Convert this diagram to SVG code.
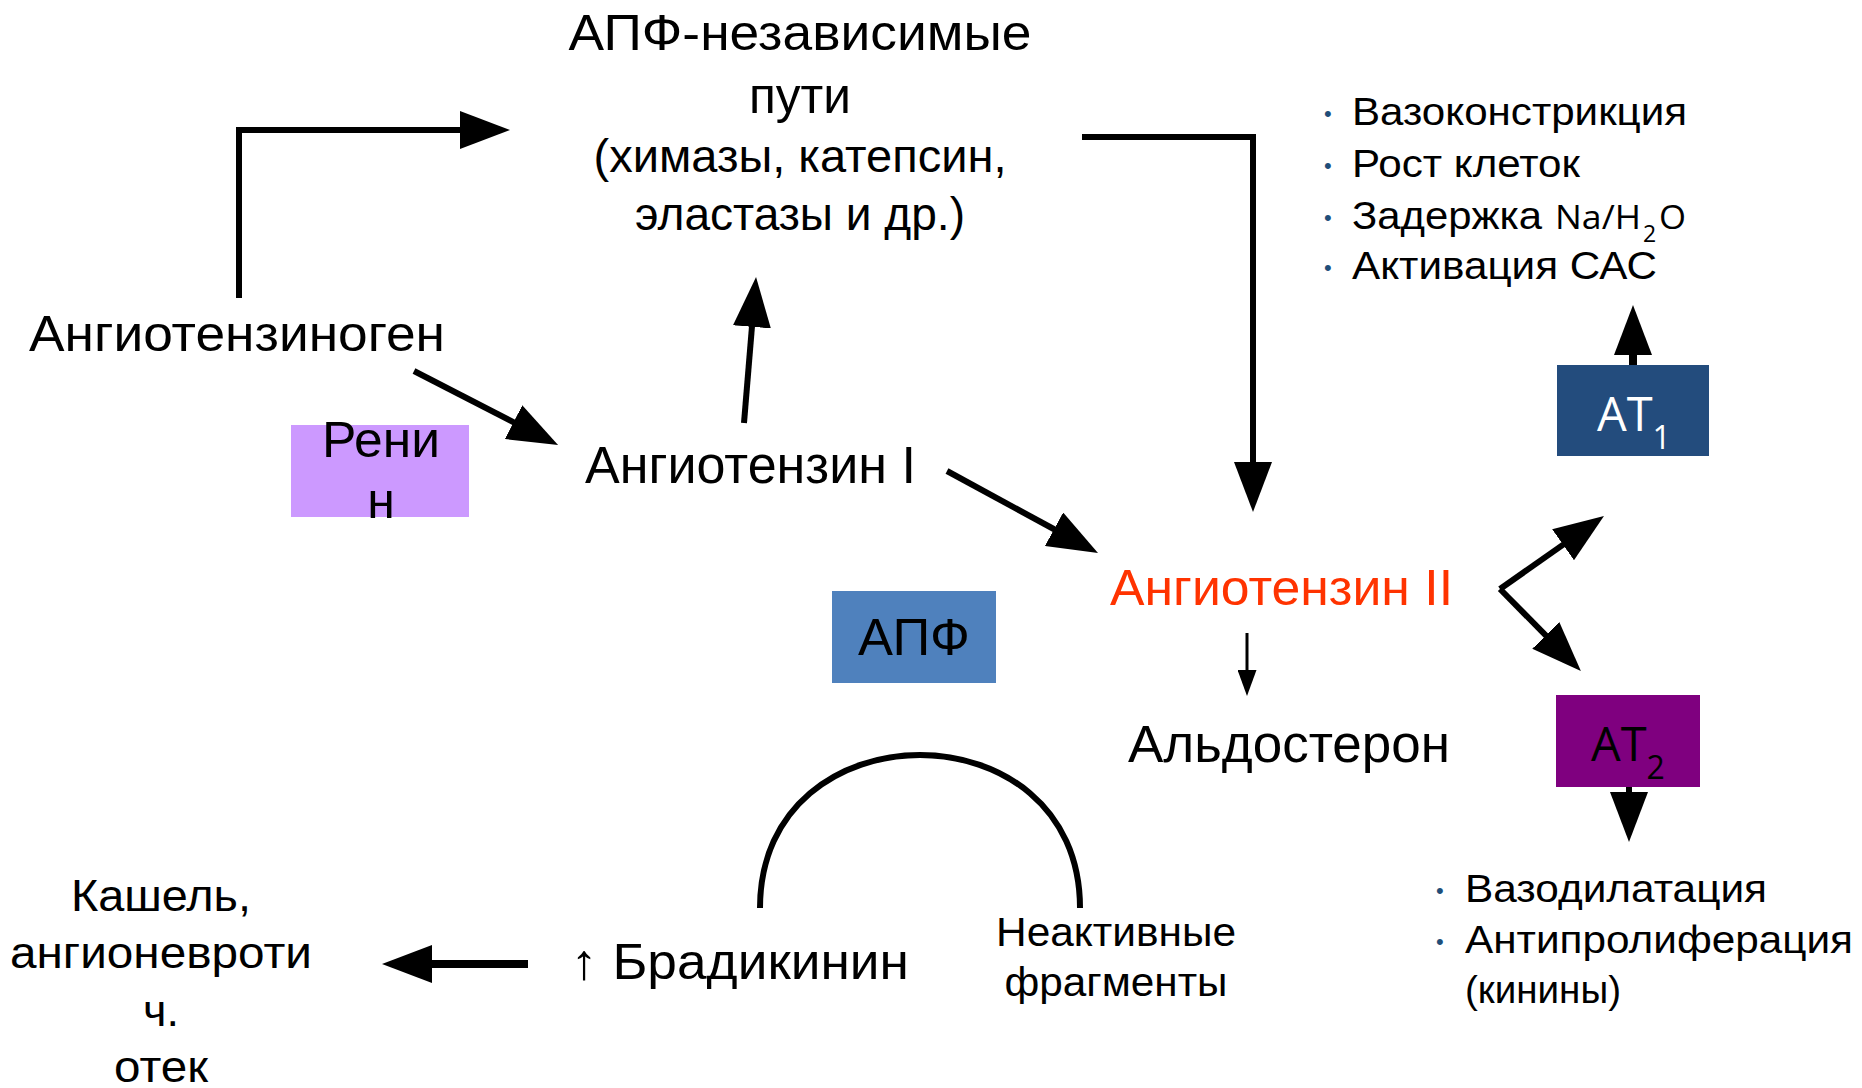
<svg xmlns="http://www.w3.org/2000/svg" width="1862" height="1088" viewBox="0 0 1862 1088">
<style>
.t{font-family:"Liberation Sans",Arial,sans-serif;fill:#000}
.c{text-anchor:middle}
.ln{fill:none;stroke:#000;stroke-width:6;stroke-linecap:butt;stroke-linejoin:miter}
.bul{fill:#1F4E79;font-family:"Liberation Sans",Arial,sans-serif;font-size:22px}
.ab{font-family:"Open Sans","Noto Sans",sans-serif}
</style>
<defs>
<marker id="big" markerUnits="userSpaceOnUse" viewBox="0 0 50 38" markerWidth="50" markerHeight="38" refX="8" refY="19" orient="auto"><path d="M0,0 L50,19 L0,38 z" fill="#000"/></marker>
<marker id="small" markerUnits="userSpaceOnUse" viewBox="0 0 26 19" markerWidth="26" markerHeight="19" refX="4" refY="9.5" orient="auto"><path d="M0,0 L26,9.5 L0,19 z" fill="#000"/></marker>
</defs>
<rect width="1862" height="1088" fill="#fff"/>

<g id="connectors">
<path class="ln" d="M239,298 V130 H468" marker-end="url(#big)"/>
<path class="ln" d="M414,371 L520.7,425.8" marker-end="url(#big)"/>
<path class="ln" d="M744,423 L752.6,318.9" marker-end="url(#big)"/>
<path class="ln" d="M1082,137 H1253 V470" marker-end="url(#big)"/>
<path class="ln" d="M947,471 L1061.1,533" marker-end="url(#big)"/>
<path class="ln" style="stroke-width:3" d="M1247,633 V674" marker-end="url(#small)"/>
<path class="ln" d="M1500,589 L1569.6,540.1" marker-end="url(#big)"/>
<path class="ln" d="M1500,589 L1551.4,641.1" marker-end="url(#big)"/>
<path class="ln" style="stroke-width:8" d="M1633,366 V347" marker-end="url(#big)"/>
<path class="ln" d="M1629,787 V800" marker-end="url(#big)"/>
<path class="ln" style="stroke-width:8" d="M528,964 H424" marker-end="url(#big)"/>
<path class="ln" d="M760,908 C760,704 1080,704 1080,908"/>
</g>

<g id="ace-independent">
<text class="t c" x="800" y="50" font-size="50" textLength="463" lengthAdjust="spacingAndGlyphs">АПФ-независимые</text>
<text class="t c" x="800" y="113" font-size="50" textLength="102" lengthAdjust="spacingAndGlyphs">пути</text>
<text class="t c" x="800" y="172" font-size="47" textLength="413" lengthAdjust="spacingAndGlyphs">(химазы, катепсин,</text>
<text class="t c" x="800" y="230" font-size="47" textLength="330" lengthAdjust="spacingAndGlyphs">эластазы и др.)</text>
</g>

<g id="angiotensinogen">
<text class="t" x="29" y="351" font-size="50" textLength="416" lengthAdjust="spacingAndGlyphs">Ангиотензиноген</text>
</g>

<g id="renin">
<rect x="291" y="425" width="178" height="92" fill="#CC99FF"/>
<text class="t c" x="381" y="457" font-size="50" textLength="118" lengthAdjust="spacingAndGlyphs">Рени</text>
<text class="t c" x="381" y="518" font-size="50">н</text>
</g>

<g id="angiotensin1">
<text class="t" x="585" y="483" font-size="51" textLength="331" lengthAdjust="spacingAndGlyphs">Ангиотензин I</text>
</g>

<g id="angiotensin2">
<text class="t" x="1110" y="605" font-size="50" textLength="343" lengthAdjust="spacingAndGlyphs" style="fill:#FF3300">Ангиотензин II</text>
</g>

<g id="aldosterone">
<text class="t" x="1128" y="762" font-size="51" textLength="322" lengthAdjust="spacingAndGlyphs">Альдостерон</text>
</g>

<g id="ace">
<rect x="832" y="591" width="164" height="92" fill="#4F81BD"/>
<text class="t c" x="914" y="655" font-size="51" textLength="112" lengthAdjust="spacingAndGlyphs">АПФ</text>
</g>

<g id="at1">
<rect x="1557" y="365" width="152" height="91" fill="#234C7D"/>
<text class="ab" x="1597" y="431" font-size="47" fill="#fff">AT<tspan font-size="32" dy="18">1</tspan></text>
</g>

<g id="at2">
<rect x="1556" y="695" width="144" height="92" fill="#7F007F"/>
<text class="ab" x="1591" y="761" font-size="47" fill="#000">AT<tspan font-size="32" dy="18">2</tspan></text>
</g>

<g id="at1-effects">
<text class="bul" x="1324" y="121">•</text>
<text class="bul" x="1324" y="173">•</text>
<text class="bul" x="1324" y="225">•</text>
<text class="bul" x="1324" y="275">•</text>
<text class="t" x="1352" y="125" font-size="38" textLength="335" lengthAdjust="spacingAndGlyphs">Вазоконстрикция</text>
<text class="t" x="1352" y="177" font-size="38" textLength="228" lengthAdjust="spacingAndGlyphs">Рост клеток</text>
<text class="t" x="1352" y="229" font-size="38" textLength="190" lengthAdjust="spacingAndGlyphs">Задержка</text>
<text class="ab" x="1555" y="229" font-size="32" textLength="86" lengthAdjust="spacingAndGlyphs">Na/H</text>
<text class="ab" x="1643" y="242" font-size="23">2</text>
<text class="ab" x="1659" y="229" font-size="32" textLength="27" lengthAdjust="spacingAndGlyphs">O</text>
<text class="t" x="1352" y="279" font-size="38" textLength="305" lengthAdjust="spacingAndGlyphs">Активация САС</text>
</g>

<g id="at2-effects">
<text class="bul" x="1436" y="898">•</text>
<text class="bul" x="1436" y="949">•</text>
<text class="t" x="1465" y="902" font-size="38" textLength="302" lengthAdjust="spacingAndGlyphs">Вазодилатация</text>
<text class="t" x="1465" y="953" font-size="38" textLength="388" lengthAdjust="spacingAndGlyphs">Антипролиферация</text>
<text class="t" x="1465" y="1003" font-size="38" textLength="156" lengthAdjust="spacingAndGlyphs">(кинины)</text>
</g>

<g id="bradykinin">
<text class="t" x="571" y="979" font-size="50" textLength="338" lengthAdjust="spacingAndGlyphs">↑ Брадикинин</text>
</g>

<g id="inactive-fragments">
<text class="t c" x="1116" y="946" font-size="40" textLength="240" lengthAdjust="spacingAndGlyphs">Неактивные</text>
<text class="t c" x="1116" y="996" font-size="40" textLength="223" lengthAdjust="spacingAndGlyphs">фрагменты</text>
</g>

<g id="cough">
<text class="t c" x="161" y="911" font-size="45" textLength="180" lengthAdjust="spacingAndGlyphs">Кашель,</text>
<text class="t c" x="161" y="968" font-size="45" textLength="302" lengthAdjust="spacingAndGlyphs">ангионевроти</text>
<text class="t c" x="161" y="1026" font-size="45">ч.</text>
<text class="t c" x="161" y="1082" font-size="45" textLength="94" lengthAdjust="spacingAndGlyphs">отек</text>
</g>
</svg>
